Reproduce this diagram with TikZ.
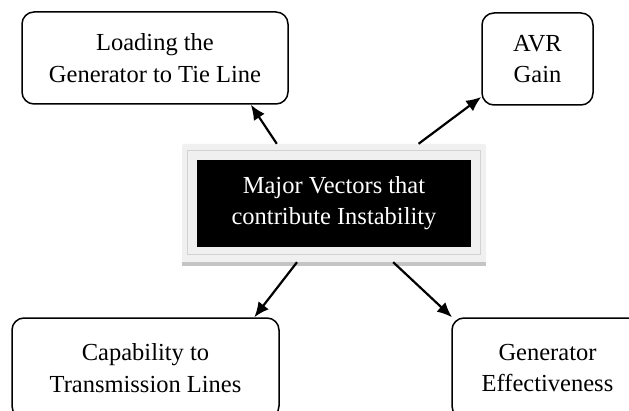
\documentclass[tikz,border=0pt]{standalone}
\usepackage{fontspec}
\setmainfont{Liberation Serif}
\usepackage{tikz}
\usetikzlibrary{arrows.meta}

\definecolor{framegray}{HTML}{F0F0F0}
\definecolor{linegray}{HTML}{D2D2D2}
\definecolor{shadowgray}{HTML}{C4C4C4}

\tikzset{
  factor/.style={draw, line width=1.5pt, rounded corners=12pt, align=center,
    font=\fontsize{24.5}{31.5}\selectfont},
  core/.style={fill=black, text=white, align=center, minimum width=274pt,
    minimum height=87pt, font=\fontsize{24.5}{31}\selectfont},
  coreframe/.style={fill=framegray, rounded corners=2pt, minimum width=304pt,
    minimum height=118pt},
  link/.style={line width=2.2pt, -{Latex[length=15pt,width=13pt]}}
}

\begin{document}
\begin{tikzpicture}[x=1pt,y=1pt]
      \useasboundingbox (0,0) rectangle (629,410);
      % Define nodes
      \node[factor, minimum width=266pt, minimum height=92pt] (load) at (155,352)
        {Loading the\\Generator to Tie Line};
      \node[factor, minimum width=111pt, minimum height=92pt] (avr) at (537.5,351)
        {AVR\\Gain};
      \node[factor, minimum width=267pt, minimum height=100pt] (cap) at (145.5,42)
        {Capability to\\Transmission Lines};
      \node[factor, minimum width=191pt, minimum height=100pt] (gen) at (547.5,42)
        {Generator\\Effectiveness};
      \node[coreframe] (frame) at (334,207) {};
      \fill[shadowgray] (frame.south west) rectangle ([yshift=-4pt]frame.south east);
      \draw[linegray, line width=1pt] ([shift={(6pt,-7pt)}]frame.north west)
        rectangle ([shift={(-6pt,8pt)}]frame.south east);
      \node[core] (hub) at ([yshift=-0.5pt]frame.center)
        {Major Vectors that\\contribute Instability};
      % Connect nodes
      \draw[link] (frame.134) -- (load.334);
      \draw[link] (frame.35) -- (avr.214);
      \draw[link] (frame.238) -- (cap.25);
      \draw[link] (frame.315) -- (gen.152);
\end{tikzpicture}
\end{document}
